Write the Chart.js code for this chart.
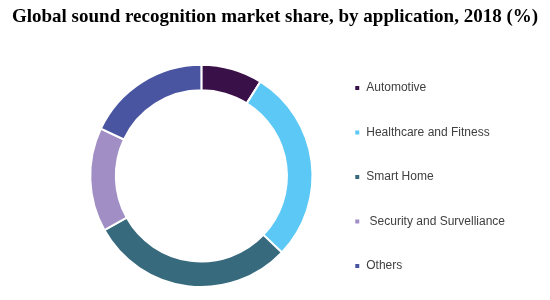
<!DOCTYPE html>
<html>
<head>
<meta charset="utf-8">
<script src="https://cdn.jsdelivr.net/npm/chart.js@4/dist/chart.umd.min.js"></script>
<style>
  body { margin: 0; background: #fff; }
  #wrap { width: 550px; height: 300px; }
</style>
</head>
<body>
<div id="wrap"><canvas id="chart" width="550" height="300"></canvas></div>
<script>
var labels = ["Automotive", "Healthcare and Fitness", "Smart Home", " Security and Survelliance", "Others"];
var values = [8.9, 28.2, 29.8, 15.1, 18.0];
var colors = ["#3a1048", "#5bc8f5", "#386a7e", "#a08ec4", "#4a55a2"];

// no side padding so the long title keeps its full width,
// then move the legend and the ring area by hand
var nudge = {
    id: 'nudge',
    afterLayout: function(chart) {
        var lg = chart.legend;
        lg.top += 33;
        lg.bottom += 33;
        lg.left -= 35;
        lg.right -= 35;
        var ca = chart.chartArea;
        ca.right -= 23;
        ca.left += 69;
        ca.width = ca.right - ca.left;
    }
};

var ctx = document.getElementById('chart');
var myChart = new Chart(ctx, {
    type: 'doughnut',
    data: {
        labels: labels,
        datasets: [{
            data: values,
            backgroundColor: colors,
            borderColor: "#ffffff",
            borderWidth: 2
        }]
    },
    options: {
        responsive: false,
        animation: false,
        cutout: '77%',
        layout: {
            padding: { left: 0, right: 0, bottom: 12 }
        },
        plugins: {
            title: {
                display: true,
                text: 'Global sound recognition market share, by application, 2018 (%)',
                color: '#000',
                font: { family: 'Liberation Serif', size: 19, weight: 'bold' },
                padding: { top: 6, bottom: 35 }
            },
            legend: {
                position: 'right',
                labels: {
                    boxWidth: 6,
                    boxHeight: 6,
                    padding: 32.5,
                    color: '#404040',
                    font: { family: 'Liberation Sans', size: 12 }
                }
            },
            tooltip: { enabled: false }
        }
    },
    plugins: [nudge]
});
</script>
</body>
</html>
